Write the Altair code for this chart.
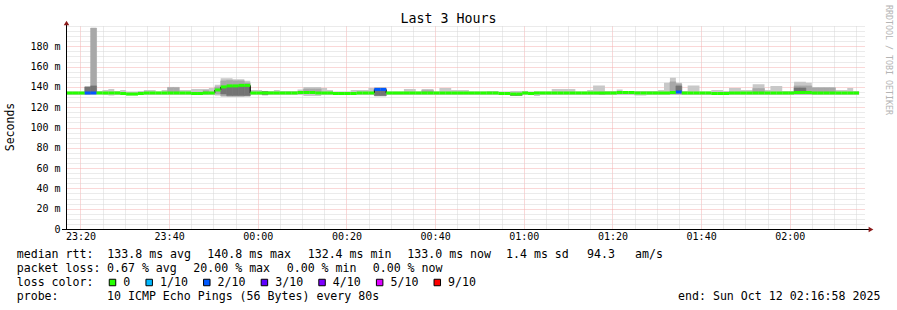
import altair as alt
import pandas as pd

MONO = "DejaVu Sans Mono"

# ---------------- data ----------------
title_text = "Last 3 Hours"
y_title = "Seconds"
watermark = "RRDTOOL / TOBI OETIKER"

start_min = 16 + 58 / 60      # 23:16:58, minutes after 23:00
span_min = 180                # 3 hours
step_min = 80 / 60            # one probe every 80 s

x_tick_values = [20, 40, 60, 80, 100, 120, 140, 160, 180]
x_tick_labels = ["23:20", "23:40", "00:00", "00:20", "00:40", "01:00", "01:20", "01:40", "02:00"]
y_tick_values = [0, 20, 40, 60, 80, 100, 120, 140, 160, 180]
y_tick_labels = ["0", "20 m", "40 m", "60 m", "80 m", "100 m", "120 m", "140 m", "160 m", "180 m"]
y_max = 200

# median rtt per 80 s step (ms)
median = [
    134, 134, 134, 134, 134, 134, 134, 134, 134, 133.5,
    133, 133, 133.5, 134, 134, 134, 134, 134, 134, 134,
    134, 133.5, 133.5, 134, 134, 137, 140, 141, 141, 141.5,
    141.5, 134, 134, 134, 134, 134, 134, 134, 134, 134.5,
    134.5, 134.5, 134, 134, 134, 133.5, 133.5, 133.5, 133.5, 134,
    134, 134, 137.5, 137.5, 134, 134, 134, 134, 134, 134,
    134, 134, 134, 134, 134, 134, 134, 134, 134, 134,
    134, 134, 134, 133.5, 133.5, 133, 133, 134, 133.5, 134,
    134, 134, 134, 134, 134, 134, 134, 134, 134, 134,
    134, 134, 134, 134.5, 134.5, 134.5, 134, 134, 134, 134,
    134, 134, 134.5, 135, 134, 134, 134, 134, 134, 133.5,
    133.5, 133.5, 134, 134, 134, 134, 134, 134, 134, 134,
    134, 134, 134, 134.5, 134.5, 134.5, 134, 134, 134, 134,
    134, 134, 134, 134,
]
# smoke: fastest and slowest ping per step (ms)
smoke_hi = [
    135.5, 135.5, 135.5, 140.5, 198, 136, 137, 138, 136, 137,
    135.5, 135.5, 136, 137, 137, 135.5, 137, 139.5, 139.5, 137,
    137, 138, 138, 138, 139, 142, 148.5, 148.5, 147.5, 147.5,
    146, 137, 137, 136, 136, 137, 136, 136, 136, 137.5,
    140, 140, 140, 139, 137, 135.5, 135.5, 135.5, 137, 137,
    137, 139, 139.5, 139.5, 135.5, 135.5, 135.5, 138, 138, 135.5,
    138, 138, 135.5, 139, 139, 137, 137, 137, 135.5, 135.5,
    135.5, 136, 136, 135.5, 135.5, 136, 136, 136, 135.5, 135.5,
    135.5, 135.5, 138, 138, 138, 138, 135.5, 135.5, 137, 141.5,
    141.5, 136, 136, 137.5, 135.5, 135.5, 136, 136, 136, 136,
    137, 144, 149, 144, 136, 141.5, 141.5, 135.5, 135.5, 137,
    137, 136, 139, 139, 137, 137, 142.5, 142.5, 137, 141,
    141, 136, 136, 145, 145, 144, 140, 140, 140, 140,
    137, 137, 139, 136,
]
smoke_lo = [
    132, 132, 132, 132, 132.5, 132.5, 132, 131.5, 132, 132,
    131.5, 131.5, 132, 132, 132, 132, 132, 132, 132, 132,
    132, 132, 132, 132, 132, 131.5, 130.5, 130, 130, 130,
    130.5, 132, 132, 131.5, 132, 132, 132, 132, 132, 132,
    131, 131, 131, 132, 132, 132, 132, 132, 132, 132,
    132, 132, 131, 131, 132, 132, 132, 132, 132, 132,
    132, 132, 132, 132, 132, 132, 132, 132, 132, 132,
    132, 132, 132, 132, 132, 131.5, 131.5, 132, 132, 131,
    132, 132, 132, 132, 132, 132, 132, 132, 132, 132,
    132, 132, 132, 132, 132, 132, 131.5, 131.5, 132, 132,
    132, 132, 132, 132, 132, 132, 132, 132, 132, 132,
    132, 132, 132, 132, 132, 132, 132, 132, 132, 132,
    132, 132, 132, 132, 132, 132, 132, 132, 132, 132,
    132, 132, 132, 132,
]
# denser middle part of the smoke (sparse: step index, low, high)
mid_steps = [4, 17, 18, 23, 25, 26, 27, 28, 29, 30, 40, 41, 42, 52, 53, 60, 61, 90, 102, 103, 116, 117, 123, 124, 125, 126, 127, 128, 129]
mid_lo = [134, 134.5, 134.5, 133, 133, 131, 131, 131, 131, 131, 134, 134, 134, 131, 131, 134, 134, 132.5, 133, 133, 134, 134, 133, 133, 133, 134, 134, 134, 134]
mid_hi = [198, 139.5, 139.5, 136.5, 140, 146, 146.5, 146, 146, 144, 138, 138, 138, 139, 139, 136.5, 136.5, 135, 145, 143, 138.5, 138.5, 141, 141, 141, 139, 139, 139, 139]
# darkest core of the smoke
dark_steps = [3, 4, 26, 27, 28, 29, 30, 33, 52, 53, 75, 76, 103, 123, 124]
dark_lo = [133, 133, 133, 131.5, 131.5, 131.5, 131.5, 132.5, 131.5, 131.5, 131.5, 131.5, 134, 135, 135]
dark_hi = [140, 141, 139, 141, 141, 141, 141, 135.5, 136.5, 136.5, 133, 133, 141, 139, 139]
# packet loss (pings lost out of 10) where not zero
loss_steps = [3, 4, 52, 53, 103]
loss_counts = [2, 2, 2, 2, 2]

loss_labels = ["0", "1/10", "2/10", "3/10", "4/10", "5/10", "9/10"]
loss_colors = ["#26ff00", "#00b8ff", "#0059ff", "#5e00ff", "#7e00ff", "#dd00ff", "#ff0000"]

rtt_legend = ["median rtt:", "133.8 ms avg", "140.8 ms max", "132.4 ms min", "133.0 ms now", "1.4 ms sd", "94.3", "am/s"]
loss_legend = ["packet loss:", "0.67 % avg", "20.00 % max", "0.00 % min", "0.00 % now"]
probe_legend = ["probe:", "10 ICMP Echo Pings (56 Bytes) every 80s"]
end_text = "end: Sun Oct 12 02:16:58 2025"

# ---------------- layout ----------------
OX, OY = 67, 26          # plot origin in the page
W, H = 798, 203          # plot area
LIGHT, MID, DARK = "#c8c8c8", "#a8a8a8", "#747474"
GRID_MINOR, GRID_MAJOR = "#d6d6d6", "#f4b0b0"


def loss_label(n):
    if n <= 4:
        return loss_labels[n]
    if n <= 8:
        return "5/10"
    return "9/10"


loss_by_step = dict(zip(loss_steps, loss_counts))
rows = []
for i, m in enumerate(median):
    t0 = start_min + i * step_min
    rows.append(dict(t0=t0, t1=t0 + step_min, med=m,
                     loss=loss_label(loss_by_step.get(i, 0))))
df = pd.DataFrame(rows)

area_df = pd.DataFrame(dict(t=list(df["t0"]) + [df["t1"].iloc[-1]],
                            lo=smoke_lo + [smoke_lo[-1]],
                            hi=smoke_hi + [smoke_hi[-1]]))


def band_df(steps, lo, hi):
    return pd.DataFrame(dict(t0=[start_min + s * step_min for s in steps],
                             t1=[start_min + (s + 1) * step_min for s in steps],
                             lo=lo, hi=hi))


mid_df = band_df(mid_steps, mid_lo, mid_hi)
dark_df = band_df(dark_steps, dark_lo, dark_hi)

conn = []
for i in range(1, len(median)):
    if abs(median[i] - median[i - 1]) >= 2:
        conn.append(dict(t=start_min + i * step_min,
                         a=min(median[i], median[i - 1]), b=max(median[i], median[i - 1])))
conn_df = pd.DataFrame(conn)

x_minor = list(range(20, 200, 5))
y_minor = list(range(0, y_max + 1, 5))
xv = "[" + ",".join(str(v) for v in x_tick_values) + "]"
xl = "[" + ",".join("'" + s + "'" for s in x_tick_labels) + "]"
yv = "[" + ",".join(str(v) for v in y_tick_values) + "]"
yl = "[" + ",".join("'" + s + "'" for s in y_tick_labels) + "]"

x_axis = alt.Axis(values=x_minor, title=None, domain=False, ticks=False, tickSize=0,
                  grid=True, gridDash=[1, 1], gridWidth=1,
                  gridColor={"condition": {"test": f"indexof({xv}, datum.value) >= 0", "value": GRID_MAJOR},
                             "value": GRID_MINOR},
                  labelExpr=f"indexof({xv}, datum.value) >= 0 ? {xl}[indexof({xv}, datum.value)] : ''",
                  labelFont=MONO, labelFontSize=10, labelColor="#000000",
                  labelPadding=7, labelBaseline="middle", labelOverlap=False, labelFlush=False)
y_axis = alt.Axis(values=y_minor, title=None, domain=False, ticks=False, tickSize=0,
                  grid=True, gridDash=[1, 1], gridWidth=1,
                  gridColor={"condition": {"test": f"indexof({yv}, datum.value) > 0", "value": GRID_MAJOR},
                             "value": GRID_MINOR},
                  labelExpr=f"indexof({yv}, datum.value) >= 0 ? {yl}[indexof({yv}, datum.value)] : ''",
                  labelFont=MONO, labelFontSize=10, labelColor="#000000",
                  labelPadding=7, labelOverlap=False, labelFlush=False)
x_scale = alt.Scale(domain=[start_min, start_min + span_min], nice=False, zero=False)
y_scale = alt.Scale(domain=[0, y_max], nice=False, zero=False)

smoke = alt.Chart(area_df).mark_area(interpolate="step-after", color=LIGHT, opacity=1).encode(
    x=alt.X("t:Q", scale=x_scale, axis=x_axis),
    y=alt.Y("lo:Q", scale=y_scale, axis=y_axis),
    y2="hi:Q")


def rect_layer(d, color):
    return alt.Chart(d).mark_rect(color=color, stroke=color, strokeWidth=0.5, opacity=1).encode(
        x=alt.X("t0:Q", scale=x_scale, axis=x_axis), x2="t1:Q",
        y=alt.Y("lo:Q", scale=y_scale, axis=y_axis), y2="hi:Q")


mid_layer = rect_layer(mid_df, MID)
dark_layer = rect_layer(dark_df, DARK)

connectors = alt.Chart(conn_df).mark_rule(color="#000000", strokeWidth=1).encode(
    x=alt.X("t:Q", scale=x_scale, axis=x_axis),
    y=alt.Y("a:Q", scale=y_scale, axis=y_axis), y2="b:Q")

med_line = alt.Chart(df).mark_rule(strokeWidth=3, strokeCap="butt").encode(
    x=alt.X("t0:Q", scale=x_scale, axis=x_axis), x2="t1:Q",
    y=alt.Y("med:Q", scale=y_scale, axis=y_axis),
    color=alt.Color("loss:N", scale=alt.Scale(domain=loss_labels, range=loss_colors), legend=None))

one = pd.DataFrame({"k": [0]})
decor = []
# axis lines and arrows
decor.append(alt.Chart(one).mark_rule(color="#000000", strokeWidth=1).encode(
    x=alt.value(-5), x2=alt.value(W + 4), y=alt.value(H + 0.5)))
decor.append(alt.Chart(one).mark_rule(color="#000000", strokeWidth=1).encode(
    x=alt.value(-0.5), y=alt.value(H + 0.5), y2=alt.value(-2)))
decor.append(alt.Chart(one).mark_point(shape="triangle-right", filled=True, size=30,
                                       color="#8b1a1a", opacity=1).encode(
    x=alt.value(W + 6), y=alt.value(H + 0.5)))
decor.append(alt.Chart(one).mark_point(shape="triangle-up", filled=True, size=30,
                                       color="#8b1a1a", opacity=1).encode(
    x=alt.value(-0.5), y=alt.value(-3)))


def txt(s, px, py, size=11.6, align="left", angle=0, color="#000000"):
    return alt.Chart(one).mark_text(text=s, font=MONO, fontSize=size, align=align,
                                    baseline="middle", angle=angle, color=color).encode(
        x=alt.value(px - OX), y=alt.value(py - OY))


decor.append(txt(title_text, 448.5, 19, size=13.3, align="center"))
decor.append(txt(y_title, 11, 127, size=11.5, align="center", angle=270))
decor.append(txt(watermark, 887.5, 60, size=8.3, align="center", angle=90, color="#b4b4b4"))

for s, px in zip(rtt_legend, [16.7, 107.3, 207.3, 307.7, 407.3, 506, 587, 635]):
    decor.append(txt(s, px, 254.5))
for s, px in zip(loss_legend, [16.7, 107, 193.3, 286.7, 372.7]):
    decor.append(txt(s, px, 268.5))
decor.append(txt("loss color:", 16.7, 282.5))
for s, px in zip(probe_legend, [16.7, 107]):
    decor.append(txt(s, px, 296.5))
decor.append(txt(end_text, 678, 296.5))

CH = 6.98
sq = 109.0
for lab, col in zip(loss_labels, loss_colors):
    decor.append(alt.Chart(one).mark_square(size=42, fill=col, stroke="#000000",
                                            strokeWidth=1, opacity=1).encode(
        x=alt.value(sq + 3.5 - OX), y=alt.value(282.5 - OY)))
    lx = sq + 14.3
    decor.append(txt(lab, lx, 282.5))
    sq = lx + len(lab) * CH + 15.4

chart = alt.layer(smoke, mid_layer, dark_layer, connectors, med_line, *decor).properties(
    width=W, height=H, autosize="none",
    padding={"left": OX, "top": OY, "right": 897 - OX - W, "bottom": 310 - OY - H},
    background="#ffffff",
).configure_view(stroke=None)

chart.save("out.html", embed_options={"renderer": "svg", "actions": False})
